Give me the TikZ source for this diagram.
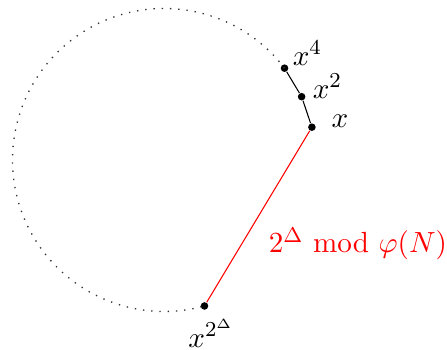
\documentclass[tikz,border=0pt]{standalone}
\usepackage{tikz}
\usetikzlibrary{positioning}
\usepackage{amsmath}
\usepackage{amssymb}
\usepackage{xcolor}

\begin{document}
\begin{tikzpicture}[
    font=\fontsize{11}{13}\selectfont,
    pt/.style={circle, fill=black, inner sep=0pt, minimum size=0.1cm},
    orbit/.style={dash pattern=on 0.5pt off 2.6pt, line width=0.5pt, color=black!80},
    chord/.style={thin, color=black}
]
\useasboundingbox (-2.165,-2.508) rectangle (3.736,2.112);
\node[pt] (x1) at (12.5:2) {};
\node[pt] (x2) at (24.7:2) {};
\node[pt] (x4) at (37.3:2) {};
\node[pt] (xd) at (-74.5:2) {};

\node (lx1) at (2.323,0.515) {$x$};
\node (lx2) at (2.158,0.977) {$x^2$};
\node (lx4) at (1.894,1.412) {$x^4$};
\node (lxd) at (0.620,-2.290) {$x^{2^\Delta}$};
\node[red] (lmod) at (2.560,-1.109) {$2^\Delta\ \mathrm{mod}\ \varphi(N)$};

\draw[orbit] (x4.center) arc[start angle=37.3, end angle=285.5, radius=2];
\draw[chord] (x1) -- (x2);
\draw[chord] (x2) -- (x4);
\draw[chord, red] (x1) -- (xd);
\end{tikzpicture}
\end{document}
